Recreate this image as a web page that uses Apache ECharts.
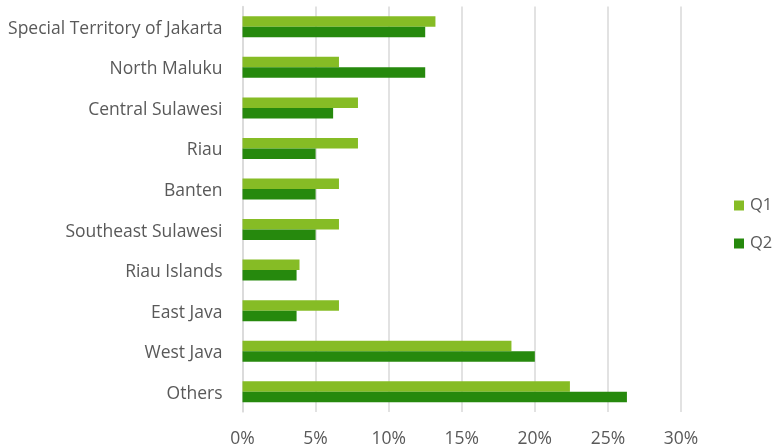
<!DOCTYPE html>
<html>
<head>
<meta charset="utf-8">
<script src="https://cdn.jsdelivr.net/npm/echarts@6/dist/echarts.min.js"></script>
<style>
  html, body { margin: 0; padding: 0; background: #ffffff; }
  #chart { width: 776px; height: 448px; }
</style>
</head>
<body>
<div id="chart"></div>
<script>
// Regions, top to bottom
const regions = [
  'Special Territory of Jakarta', 'North Maluku', 'Central Sulawesi', 'Riau',
  'Banten', 'Southeast Sulawesi', 'Riau Islands', 'East Java', 'West Java', 'Others'
];
// Shares in percent
const q1Values = [13.2, 6.6, 7.9, 7.9, 6.6, 6.6, 3.9, 6.6, 18.4, 22.4];
const q2Values = [12.5, 12.5, 6.2, 5.0, 5.0, 5.0, 3.7, 3.7, 20.0, 26.3];
const seriesNames = ['Q1', 'Q2'];
const xTicks = { min: 0, max: 30, step: 5 };

const textColor = '#595959';
const fontFamily = '"Open Sans", "Noto Sans", sans-serif';
const fontSize = 17.5;

const chart = echarts.init(document.getElementById('chart'), null, { renderer: 'canvas' });
chart.setOption({
  animation: false,
  backgroundColor: '#ffffff',
  textStyle: { fontFamily: fontFamily },
  legend: {
    orient: 'vertical',
    left: 734,
    top: 197,
    padding: 0,
    data: seriesNames,
    itemWidth: 10,
    itemHeight: 10,
    itemGap: 21,
    icon: 'rect',
    textStyle: { color: textColor, fontSize: 16.5, fontFamily: fontFamily, padding: [0, 0, 0, 1] }
  },
  grid: {
    left: 242.5,
    right: 95,
    top: 6.5,
    bottom: 35.5,
    containLabel: false
  },
  xAxis: {
    type: 'value',
    min: xTicks.min,
    max: xTicks.max,
    interval: xTicks.step,
    axisLine: { show: false },
    axisTick: { show: false },
    splitLine: { show: true, lineStyle: { color: '#d9d9d9', width: 1.5 } },
    axisLabel: {
      color: textColor,
      fontSize: fontSize,
      margin: 18,
      fontFamily: fontFamily,
      formatter: v => v + '%'
    }
  },
  yAxis: {
    type: 'category',
    inverse: true,
    data: regions,
    axisLine: { show: true, lineStyle: { color: '#d9d9d9', width: 1.5 } },
    axisTick: { show: false },
    axisLabel: {
      color: textColor,
      fontSize: fontSize,
      margin: 20,
      fontFamily: fontFamily,
      formatter: v => '{r|' + v + '}',
      rich: {
        r: {
          color: textColor,
          fontSize: fontSize,
          fontFamily: fontFamily,
          padding: [4, 0, 0, 0]
        }
      }
    }
  },
  series: [
    {
      name: seriesNames[0],
      type: 'bar',
      data: q1Values,
      barWidth: 10.5,
      barGap: '0%',
      itemStyle: { color: '#86bc25' }
    },
    {
      name: seriesNames[1],
      type: 'bar',
      data: q2Values,
      barWidth: 10.5,
      barGap: '0%',
      itemStyle: { color: '#26890d' }
    }
  ]
});
</script>
</body>
</html>
